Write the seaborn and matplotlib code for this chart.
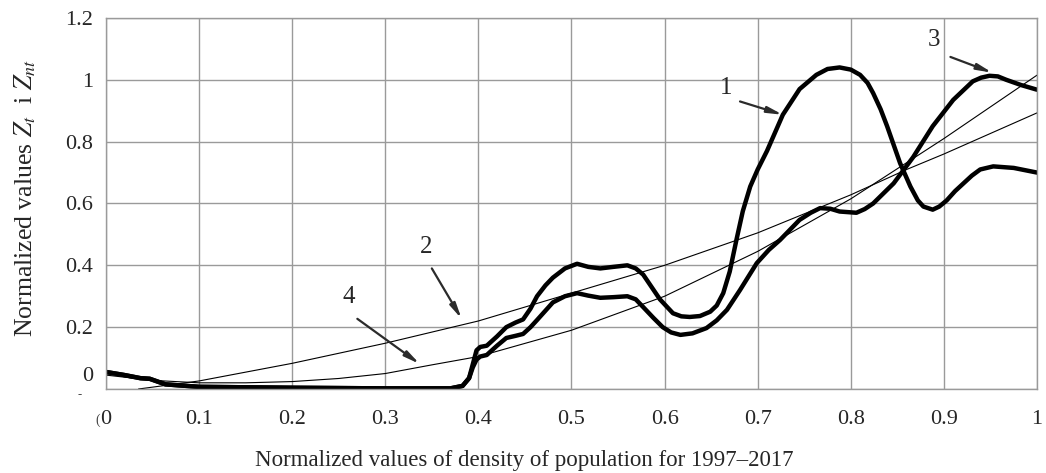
import numpy as np
import pandas as pd
import matplotlib
matplotlib.use("Agg")
import matplotlib.pyplot as plt
import seaborn as sns

# --- data ---
x1 = [0, 0.02, 0.037, 0.047, 0.064, 0.1, 0.2, 0.3, 0.37, 0.383, 0.39, 0.394, 0.398, 0.402,
      0.409, 0.42, 0.43, 0.44, 0.448, 0.456, 0.463, 0.472, 0.48, 0.493, 0.506, 0.518, 0.531,
      0.545, 0.56, 0.569, 0.577, 0.586, 0.595, 0.609, 0.618, 0.627, 0.638, 0.649, 0.656,
      0.663, 0.67, 0.677, 0.684, 0.692, 0.70, 0.71, 0.727, 0.745, 0.763, 0.775, 0.788, 0.80,
      0.81, 0.818, 0.824, 0.832, 0.839, 0.853, 0.864, 0.872, 0.878, 0.888, 0.895, 0.903,
      0.912, 0.921, 0.93, 0.939, 0.953, 0.975, 1]
z1 = [0.055, 0.045, 0.035, 0.033, 0.015, 0.007, 0.004, 0.002, 0.002, 0.01, 0.035, 0.08,
      0.125, 0.136, 0.14, 0.17, 0.2, 0.215, 0.225, 0.26, 0.3, 0.335, 0.36, 0.39, 0.405,
      0.395, 0.39, 0.395, 0.40, 0.39, 0.37, 0.33, 0.29, 0.245, 0.235, 0.233, 0.236, 0.25,
      0.27, 0.31, 0.38, 0.48, 0.575, 0.655, 0.71, 0.77, 0.887, 0.97, 1.016, 1.035, 1.04,
      1.033, 1.016, 0.99, 0.957, 0.905, 0.85, 0.73, 0.655, 0.61, 0.59, 0.58, 0.59, 0.61,
      0.64, 0.665, 0.69, 0.71, 0.72, 0.715, 0.70]

x3 = [0, 0.02, 0.037, 0.047, 0.064, 0.1, 0.2, 0.3, 0.37, 0.383, 0.39, 0.394, 0.398, 0.402,
      0.409, 0.42, 0.43, 0.44, 0.448, 0.456, 0.463, 0.48, 0.493, 0.506, 0.518, 0.531, 0.545,
      0.56, 0.569, 0.577, 0.588, 0.598, 0.607, 0.617, 0.63, 0.645, 0.656, 0.667, 0.681,
      0.699, 0.712, 0.724, 0.745, 0.757, 0.767, 0.778, 0.788, 0.806, 0.815, 0.824, 0.846,
      0.867, 0.888, 0.91, 0.931, 0.94, 0.949, 0.958, 0.967, 0.983, 1]
z3 = [0.055, 0.045, 0.035, 0.033, 0.015, 0.007, 0.004, 0.002, 0.002, 0.01, 0.035, 0.07,
      0.095, 0.105, 0.11, 0.14, 0.165, 0.172, 0.178, 0.2, 0.223, 0.28, 0.3, 0.31, 0.302,
      0.295, 0.297, 0.30, 0.29, 0.265, 0.23, 0.20, 0.183, 0.175, 0.18, 0.197, 0.222, 0.256,
      0.32, 0.407, 0.45, 0.482, 0.547, 0.57, 0.585, 0.583, 0.574, 0.57, 0.582, 0.60, 0.665,
      0.75, 0.85, 0.935, 0.995, 1.007, 1.013, 1.011, 1.0, 0.983, 0.968]

x2 = [0.035, 0.1, 0.2, 0.3, 0.4, 0.5, 0.6, 0.7, 0.8, 0.86, 0.9, 1]
z2 = [0.0, 0.026, 0.083, 0.148, 0.22, 0.31, 0.40, 0.505, 0.628, 0.71, 0.76, 0.893]

x4 = [0, 0.05, 0.1, 0.15, 0.2, 0.25, 0.3, 0.35, 0.4, 0.5, 0.6, 0.7, 0.8, 0.9, 1]
z4 = [0.045, 0.028, 0.02, 0.02, 0.024, 0.034, 0.05, 0.078, 0.105, 0.19, 0.30, 0.445,
      0.615, 0.81, 1.015]

xticks = [0, 0.1, 0.2, 0.3, 0.4, 0.5, 0.6, 0.7, 0.8, 0.9, 1]
xtick_labels = ["0", "0.1", "0.2", "0.3", "0.4", "0.5", "0.6", "0.7", "0.8", "0.9", "1"]
yticks = [0, 0.2, 0.4, 0.6, 0.8, 1, 1.2]
ytick_labels = ["", "0.2", "0.4", "0.6", "0.8", "1", "1.2"]

# --- style ---
sns.set_style("whitegrid")
plt.rcParams["font.family"] = ["Liberation Serif", "DejaVu Serif"]
plt.rcParams["mathtext.fontset"] = "stix"

fig = plt.figure(figsize=(10.46, 4.73), dpi=100)
ax = fig.add_axes([0.1013, 0.1776, 0.8901, 0.7844])

thick = dict(color="black", linewidth=3.2, estimator=None, ax=ax)
thin = dict(color="black", linewidth=0.8, estimator=None, ax=ax)

sns.lineplot(x=x1, y=z1, **thick)
sns.lineplot(x=x3, y=z3, **thick)
sns.lineplot(x=x2, y=z2, **thin)
sns.lineplot(x=x4, y=z4, **thin)

ax.set_xlim(0, 1)
ax.set_ylim(0, 1.2)
ax.set_xticks(xticks)
ax.set_xticklabels(xtick_labels)
ax.set_yticks(yticks)
ax.set_yticklabels(ytick_labels)
ax.tick_params(axis="both", labelsize=16, length=0)
ax.tick_params(axis="x", pad=15)
ax.tick_params(axis="y", pad=9)
ax.grid(True, color="#9a9a9a", linewidth=1.0)
for s in ax.spines.values():
    s.set_color("#9a9a9a")
    s.set_linewidth(1.0)

# the "0" label sits a little above the axis in the original
ax.text(-0.0135, 0.042, "0", transform=ax.get_yaxis_transform(), ha="right", va="center",
        fontsize=16)
# small stray marks near the origin
ax.text(-0.028, -0.02, "-", transform=ax.get_yaxis_transform(), ha="center", va="center",
        fontsize=9, color="#444444")
ax.text(-0.009, -0.1, "(", transform=ax.get_yaxis_transform(), ha="center", va="center",
        fontsize=10, color="#444444")

ax.set_xlabel("Normalized values of density of population for 1997\u20132017", fontsize=16.5)
ax.xaxis.set_label_coords(0.449, -0.165)
ax.set_ylabel(r"Normalized values $Z_t$  i $Z_{nt}$", fontsize=18.5)
ax.yaxis.set_label_coords(-0.073, 0.515)

# --- curve numbers with arrows ---
arrow = dict(arrowstyle="-|>,head_length=0.9,head_width=0.18", color="#2b2b2b", lw=1.6,
             shrinkA=0, shrinkB=0)
ax.annotate("", xy=(0.727, 0.887), xytext=(0.681, 0.93), arrowprops=arrow)
ax.text(0.666, 0.975, "1", fontsize=18, ha="center", va="center")
ax.annotate("", xy=(0.382, 0.227), xytext=(0.35, 0.39), arrowprops=arrow)
ax.text(0.344, 0.459, "2", fontsize=18, ha="center", va="center")
ax.annotate("", xy=(0.952, 1.023), xytext=(0.907, 1.074), arrowprops=arrow)
ax.text(0.889, 1.13, "3", fontsize=18, ha="center", va="center")
ax.annotate("", xy=(0.337, 0.081), xytext=(0.27, 0.227), arrowprops=arrow)
ax.text(0.261, 0.298, "4", fontsize=18, ha="center", va="center")

fig.savefig("out.png", dpi=100)
